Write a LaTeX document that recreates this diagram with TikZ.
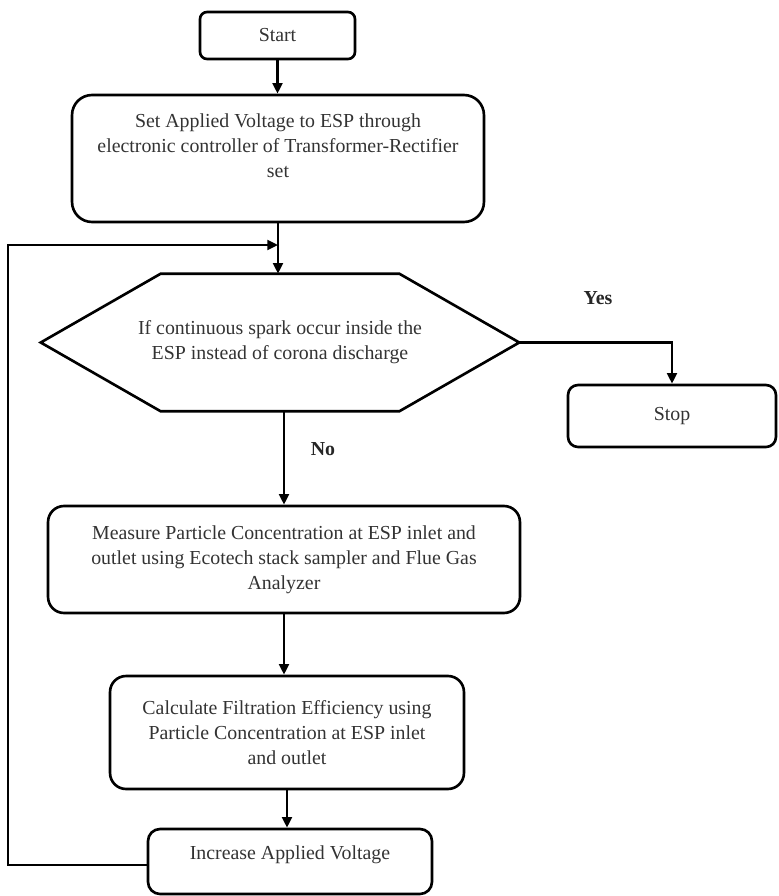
\documentclass[tikz,border=0pt]{standalone}
\usepackage{fontspec}
\setmainfont{Liberation Serif}
\usetikzlibrary{arrows.meta}

\begin{document}
\begin{tikzpicture}[x=0.02cm,y=-0.02cm]
\tikzset{
    box/.style={draw, line width=1.5pt, text=black!80, align=center, inner sep=0pt,
        font=\fontsize{11.3}{14.2}\selectfont},
    link/.style={line width=1.5pt, -{Triangle[length=6pt,width=5.5pt]}},
    answer/.style={text=black!85, font=\fontsize{11.3}{14.2}\selectfont\bfseries}}
\def\cut{2.4cm}

\useasboundingbox (0,0) rectangle (778,896);

\node[box, rounded corners=0.14cm, minimum width=3.1cm, minimum height=0.94cm] (start) at (277.5,35.5) {Start};
\node[box, rounded corners=0.4cm, minimum width=8.24cm, minimum height=2.54cm] (set) at (278,158.5)
    {Set Applied Voltage to ESP through\\ electronic controller of Transformer-Rectifier\\ set\\ \mbox{}};

\node[box, draw=none, minimum width=9.52cm, minimum height=2.7cm] (cond) at (280,342.5)
    {If continuous spark occur inside the\\ ESP instead of corona discharge};
\draw[line width=1.5pt] (cond.west) -- ([xshift=\cut]cond.north west) -- ([xshift=-\cut]cond.north east)
    -- (cond.east) -- ([xshift=-\cut]cond.south east) -- ([xshift=\cut]cond.south west) -- cycle;

\node[box, rounded corners=0.2cm, minimum width=4.16cm, minimum height=1.24cm] (stop) at (672,416) {Stop};
\node[box, rounded corners=0.32cm, minimum width=9.44cm, minimum height=2.14cm] (meas) at (284,559.5)
    {Measure Particle Concentration at ESP inlet and\\ outlet using Ecotech stack sampler and Flue Gas\\ Analyzer};
\node[box, rounded corners=0.32cm, minimum width=7.08cm, minimum height=2.26cm] (calc) at (287,732.5)
    {Calculate Filtration Efficiency using\\ Particle Concentration at ESP inlet\\ and outlet};
\node[box, rounded corners=0.24cm, minimum width=5.68cm, minimum height=1.3cm] (inc) at (290,861.5)
    {Increase Applied Voltage\\[-4pt]\mbox{}};

\node[answer] (yes) at (598,298) {Yes};
\node[answer] (no) at (323,449) {No};

\coordinate (merge) at (278,245);
\coordinate (lft) at (8,865);

\draw[link] (start.south) -- (start.south |- set.north);
\draw[link] (set.south) -- (set.south |- cond.north);
\draw[link] (cond.east) -| (stop.north);
\draw[link] (meas.north |- cond.south) -- (meas.north);
\draw[link] (meas.south) -- (meas.south |- calc.north);
\draw[link] (calc.south) -- (calc.south |- inc.north);
\draw[link] (inc.west |- lft) -- (lft) |- (merge);

\end{tikzpicture}
\end{document}
